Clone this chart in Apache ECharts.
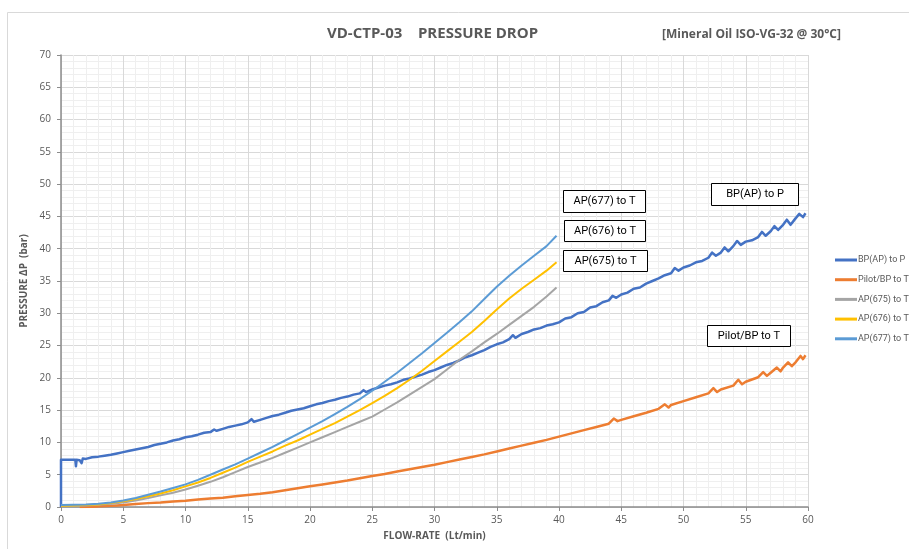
<!DOCTYPE html>
<html>
<head>
<meta charset="utf-8">
<script src="https://cdn.jsdelivr.net/npm/echarts@6/dist/echarts.min.js"></script>
<style>
html,body{margin:0;padding:0;background:#fff;}
#chart{width:909px;height:549px;}
</style>
</head>
<body>
<div id="chart"></div>
<script>
// ---- Data ----
var seriesNames = ['BP(AP) to P', 'Pilot/BP to T', 'AP(675) to T', 'AP(676) to T', 'AP(677) to T'];

// [flow (Lt/min), pressure drop (bar)]
var bpToP = [
 [0,0],[0,7.3],[1.15,7.3],[1.2,6.3],[1.25,7.3],[1.5,7.25],[1.65,6.8],[1.75,7.5],[2,7.45],[2.5,7.7],[3,7.8],[3.5,7.95],[4,8.1],[4.5,8.3],[5,8.5],[5.5,8.7],[6,8.9],[6.5,9.1],[7,9.3],[7.5,9.6],[8,9.8],[8.5,10.0],[9,10.3],[9.5,10.5],[10,10.8],[10.5,10.95],[11,11.2],[11.5,11.5],[12,11.6],[12.3,12.0],[12.5,11.8],[13,12.1],[13.5,12.4],[14,12.6],[14.5,12.8],[15,13.1],[15.3,13.6],[15.5,13.2],[16,13.5],[16.5,13.8],[17,14.1],[17.5,14.3],[18,14.6],[18.5,14.9],[19,15.1],[19.5,15.3],[20,15.6],[20.5,15.9],[21,16.1],[21.5,16.4],[22,16.6],[22.5,16.9],[23,17.1],[23.5,17.4],[24,17.6],[24.3,18.1],[24.5,17.8],[25,18.2],[25.5,18.5],[26,18.8],[26.5,19.0],[27,19.3],[27.5,19.7],[28,19.9],[28.5,20.2],[29,20.5],[29.5,20.9],[30,21.2],[30.5,21.6],[31,22.0],[31.5,22.3],[32,22.7],[32.5,23.2],[33,23.5],[33.5,23.9],[34,24.3],[34.5,24.8],[35,25.2],[35.5,25.5],[36,26.0],[36.3,26.6],[36.5,26.2],[37,26.8],[37.5,27.1],[38,27.5],[38.5,27.7],[39,28.1],[39.5,28.3],[40,28.6],[40.5,29.2],[41,29.4],[41.5,30.0],[42,30.2],[42.5,30.9],[43,31.1],[43.5,31.7],[44,32.0],[44.3,32.7],[44.6,32.4],[45,32.9],[45.5,33.2],[46,33.8],[46.5,34.0],[47,34.6],[47.5,35.0],[48,35.4],[48.5,35.9],[49,36.2],[49.3,37.0],[49.6,36.6],[50,37.1],[50.5,37.4],[51,37.9],[51.5,38.1],[52,38.6],[52.3,39.4],[52.6,38.9],[53,39.4],[53.3,40.2],[53.6,39.6],[54,40.4],[54.3,41.2],[54.6,40.6],[55,41.1],[55.5,41.3],[56,41.8],[56.3,42.6],[56.6,42.0],[57,42.7],[57.3,43.5],[57.6,42.9],[58,43.7],[58.3,44.5],[58.6,43.7],[59,44.7],[59.3,45.4],[59.6,44.9],[59.8,45.5]
];
var pilotToT = [
 [1.5,0],[2.5,0.05],[3.5,0.15],[4.5,0.25],[5,0.3],[6,0.45],[7,0.6],[8,0.7],[9,0.85],[10,0.95],[11,1.15],[12,1.3],[13,1.45],[14,1.65],[15,1.85],[16,2.05],[17,2.3],[18,2.6],[19,2.9],[20,3.2],[21,3.5],[22,3.8],[23,4.1],[24,4.45],[25,4.8],[26,5.1],[27,5.5],[28,5.85],[29,6.2],[30,6.55],[31,6.95],[32,7.35],[33,7.75],[34,8.15],[35,8.6],[36,9.05],[37,9.5],[38,9.95],[39,10.4],[40,10.9],[41,11.4],[42,11.9],[43,12.4],[44,12.9],[44.4,13.7],[44.7,13.3],[45,13.5],[46,14.05],[47,14.6],[48,15.2],[48.5,15.9],[48.8,15.4],[49,15.8],[50,16.4],[51,17.0],[52,17.6],[52.4,18.4],[52.7,17.8],[53,18.2],[54,18.8],[54.4,19.7],[54.7,19.0],[55,19.4],[56,20.1],[56.4,20.9],[56.7,20.3],[57,20.8],[57.5,21.6],[57.8,21.0],[58,21.6],[58.4,22.4],[58.7,21.8],[59,22.4],[59.4,23.4],[59.6,22.9],[59.8,23.5]
];
var ap675ToT = [
 [0,0.15],[1,0.2],[2,0.25],[3,0.35],[4,0.5],[5,0.7],[6,1.0],[7,1.4],[8,1.8],[9,2.2],[10,2.7],[11,3.3],[12,3.9],[13,4.6],[14,5.4],[15,6.2],[16,6.9],[17,7.6],[18,8.4],[19,9.2],[20,10.0],[21,10.8],[22,11.6],[23,12.4],[24,13.2],[25,14.0],[26,15.1],[27,16.2],[28,17.4],[29,18.6],[30,19.8],[31,21.3],[32,22.8],[33,24.1],[34,25.5],[35,26.8],[36,28.2],[37,29.6],[38,31.0],[39,32.6],[39.8,34.0]
];
var ap676ToT = [
 [0,0.2],[1,0.25],[2,0.3],[3,0.4],[4,0.6],[5,0.9],[6,1.25],[7,1.65],[8,2.1],[9,2.6],[10,3.2],[11,3.8],[12,4.5],[13,5.3],[14,6.1],[15,7.0],[16,7.8],[17,8.6],[18,9.5],[19,10.3],[20,11.2],[21,12.1],[22,13.0],[23,14.0],[24,15.0],[25,16.1],[26,17.2],[27,18.4],[28,19.7],[29,21.1],[30,22.6],[31,24.1],[32,25.6],[33,27.1],[34,28.8],[35,30.6],[36,32.3],[37,33.8],[38,35.2],[39,36.6],[39.8,37.9]
];
var ap677ToT = [
 [0,0.3],[1,0.35],[2,0.4],[3,0.5],[4,0.7],[5,1.0],[6,1.4],[7,1.9],[8,2.4],[9,2.95],[10,3.5],[11,4.2],[12,5.0],[13,5.8],[14,6.6],[15,7.5],[16,8.4],[17,9.3],[18,10.3],[19,11.3],[20,12.3],[21,13.3],[22,14.4],[23,15.5],[24,16.7],[25,18.0],[26,19.4],[27,20.8],[28,22.3],[29,23.8],[30,25.4],[31,27.0],[32,28.6],[33,30.3],[34,32.2],[35,34.1],[36,35.8],[37,37.4],[38,38.9],[39,40.4],[39.8,42.0]
];

var xTicks = {min: 0, max: 60, step: 5};
var yTicks = {min: 0, max: 70, step: 5};

var titleText = 'VD-CTP-03    PRESSURE DROP';
var subtitleText = '[Mineral Oil ISO-VG-32 @ 30°C]';
var xAxisName = 'FLOW-RATE  (Lt/min)';
var yAxisName = 'PRESSURE \u0394P  (bar)';

// ---- Styles ----
var colors = ['#4472C4', '#ED7D31', '#A5A5A5', '#FFC000', '#5B9BD5'];
var widths = [2.5, 2.5, 2, 2, 2];
var FONT = '"Open Sans", "Liberation Sans", sans-serif';
var NARROW = 'Roboto, "Liberation Sans", sans-serif';
var TXT = '#595959';

var allData = [bpToP, pilotToT, ap675ToT, ap676ToT, ap677ToT];

var chart = echarts.init(document.getElementById('chart'), null, {renderer: 'canvas'});

function box(x, y, w, h, label) {
  return {
    type: 'group', left: x, top: y, z: 100,
    children: [
      {type: 'rect', z: 100, shape: {x: 0, y: 0, width: w, height: h},
       style: {fill: '#fff', stroke: '#000', lineWidth: 1}},
      {type: 'text', z: 101, style: {x: w / 2, y: h / 2, text: label, fill: '#000',
        font: '11px ' + NARROW, textAlign: 'center', textVerticalAlign: 'middle'}}
    ]
  };
}

var option = {
  animation: false,
  backgroundColor: '#fff',
  color: colors,
  textStyle: {fontFamily: FONT},
  grid: {left: 61, right: 101, top: 55, bottom: 42, containLabel: false},
  title: [
    {text: titleText, left: 322, top: 21,
     textStyle: {fontSize: 15, fontWeight: 'bold', color: TXT, fontFamily: FONT}},
    {text: subtitleText, left: 657, top: 24,
     textStyle: {fontSize: 12, fontWeight: 'bold', color: TXT, fontFamily: FONT}}
  ],
  legend: {
    orient: 'vertical', left: 830, top: 249,
    itemWidth: 22, itemHeight: 3, itemGap: 7.7, icon: 'rect',
    textStyle: {fontSize: 9, color: TXT, fontFamily: NARROW, lineHeight: 12,
      padding: [0, 0, 0, -4], overflow: 'none', width: 80},
    data: seriesNames
  },
  xAxis: {
    type: 'value', min: xTicks.min, max: xTicks.max, interval: xTicks.step,
    name: xAxisName, nameLocation: 'middle', nameGap: 24,
    nameTextStyle: {fontSize: 10, fontWeight: 'bold', color: TXT, fontFamily: FONT},
    axisLine: {show: true, lineStyle: {color: '#8c8c8c', width: 1.5}},
    axisTick: {show: true, length: 4, lineStyle: {color: '#8c8c8c'}},
    axisLabel: {fontSize: 10, color: TXT, margin: 8},
    splitLine: {show: true, lineStyle: {color: '#d9d9d9', width: 1}},
    minorTick: {show: false, splitNumber: 5},
    minorSplitLine: {show: true, lineStyle: {color: '#efefef', width: 1}}
  },
  yAxis: {
    type: 'value', min: yTicks.min, max: yTicks.max, interval: yTicks.step,
    name: yAxisName, nameLocation: 'middle', nameGap: 31, nameRotate: 90,
    nameTextStyle: {fontSize: 10, fontWeight: 'bold', color: TXT, fontFamily: FONT},
    axisLine: {show: true, lineStyle: {color: '#8c8c8c', width: 1.5}},
    axisTick: {show: true, length: 4, lineStyle: {color: '#8c8c8c'}},
    axisLabel: {fontSize: 10, color: TXT, margin: 10},
    splitLine: {show: true, lineStyle: {color: '#d9d9d9', width: 1}},
    minorTick: {show: false, splitNumber: 5},
    minorSplitLine: {show: true, lineStyle: {color: '#efefef', width: 1}}
  },
  series: seriesNames.map(function (n, i) {
    return {
      name: n, type: 'line', data: allData[i], showSymbol: false, symbol: 'none',
      lineStyle: {width: widths[i], color: colors[i], join: 'round'},
      itemStyle: {color: colors[i]}
    };
  }),
  graphic: [
    {type: 'rect', left: 5, top: 10, z: -10, silent: true,
     shape: {x: 0, y: 0, width: 920, height: 560},
     style: {fill: 'none', stroke: '#d9d9d9', lineWidth: 1}},
    box(563, 190, 82, 22, 'AP(677) to T'),
    box(564, 220, 81, 21, 'AP(676) to T'),
    box(563, 250, 84, 21, 'AP(675) to T'),
    box(711, 183, 87, 22, 'BP(AP) to P'),
    box(707, 325, 83, 21, 'Pilot/BP to T')
  ]
};

chart.setOption(option);
</script>
</body>
</html>
